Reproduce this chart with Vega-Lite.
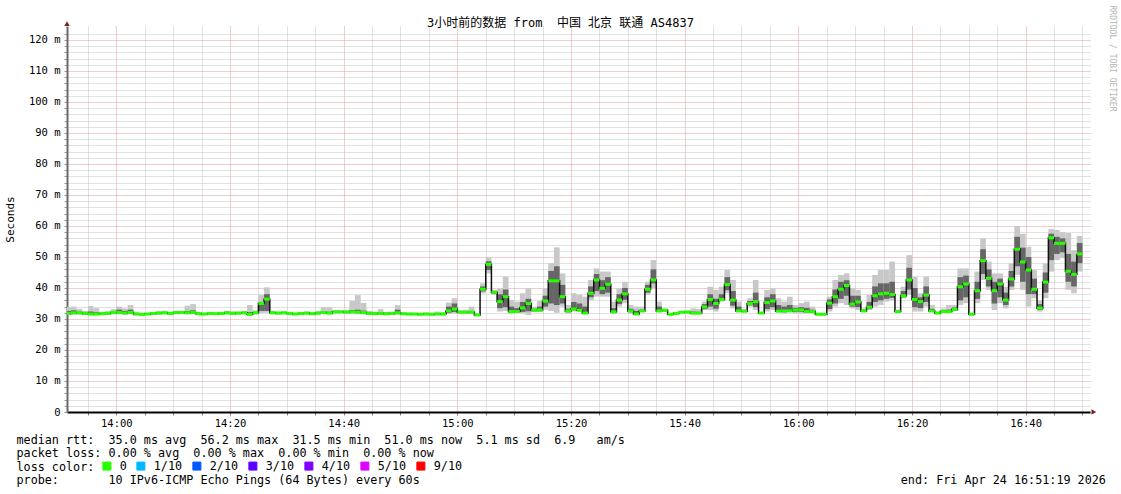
{
  "$schema": "https://vega.github.io/schema/vega-lite/v6.json",
  "width": 1023,
  "height": 386,
  "autosize": "none",
  "padding": {"left": 67, "top": 26, "right": 31, "bottom": 82},
  "background": "#ffffff",
  "config": {"view": {"stroke": null}, "font": "DejaVu Sans Mono"},
  "title": {
    "text": "3小时前的数据 from\u00a0\u00a0中国 北京 联通 AS4837",
    "font": "DejaVu Sans Mono, Noto Sans CJK SC",
    "fontSize": 12,
    "fontWeight": "normal",
    "color": "#000000",
    "anchor": "middle",
    "frame": "group",
    "dx": -18,
    "dy": 36.5,
    "offset": 0,
    "baseline": "bottom"
  },
  "data": {
    "values": [
      {"t":-9,"e":-8,"m":31.8,"lo":31.3,"hi":33.9,"a":31.5,"b":32.6},
      {"t":-8,"e":-7,"m":32.0,"lo":31.4,"hi":34.0,"a":31.6,"b":32.8},
      {"t":-7,"e":-6,"m":32.0,"lo":31.4,"hi":33.3,"a":31.6,"b":32.4},
      {"t":-6,"e":-5,"m":31.8,"lo":31.3,"hi":32.6,"a":31.5,"b":32.1},
      {"t":-5,"e":-4,"m":31.6,"lo":31.2,"hi":34.2,"a":31.4,"b":32.4},
      {"t":-4,"e":-3,"m":31.6,"lo":31.2,"hi":33.5,"a":31.4,"b":32.2},
      {"t":-3,"e":-2,"m":31.7,"lo":31.3,"hi":32.4,"a":31.5,"b":32.0},
      {"t":-2,"e":-1,"m":31.8,"lo":31.4,"hi":32.5,"a":31.6,"b":32.1},
      {"t":-1,"e":0,"m":32.1,"lo":31.5,"hi":33.2,"a":31.8,"b":32.5},
      {"t":0,"e":1,"m":32.1,"lo":31.5,"hi":34.0,"a":31.8,"b":33.0},
      {"t":1,"e":2,"m":31.9,"lo":31.4,"hi":33.4,"a":31.6,"b":32.6},
      {"t":2,"e":3,"m":32.1,"lo":31.5,"hi":34.5,"a":31.7,"b":33.0},
      {"t":3,"e":4,"m":31.6,"lo":31.2,"hi":32.3,"a":31.4,"b":31.9},
      {"t":4,"e":5,"m":31.5,"lo":31.1,"hi":32.0,"a":31.3,"b":31.8},
      {"t":5,"e":6,"m":31.6,"lo":31.2,"hi":32.0,"a":31.4,"b":31.9},
      {"t":6,"e":7,"m":31.8,"lo":31.3,"hi":32.2,"a":31.5,"b":32.0},
      {"t":7,"e":8,"m":31.9,"lo":31.4,"hi":32.6,"a":31.6,"b":32.2},
      {"t":8,"e":9,"m":32.0,"lo":31.5,"hi":32.6,"a":31.7,"b":32.3},
      {"t":9,"e":10,"m":31.8,"lo":31.4,"hi":32.3,"a":31.6,"b":32.0},
      {"t":10,"e":11,"m":32.1,"lo":31.6,"hi":32.6,"a":31.8,"b":32.3},
      {"t":11,"e":12,"m":32.1,"lo":31.6,"hi":32.4,"a":31.8,"b":32.3},
      {"t":12,"e":13,"m":32.0,"lo":31.5,"hi":34.3,"a":31.7,"b":32.6},
      {"t":13,"e":14,"m":32.1,"lo":31.5,"hi":34.8,"a":31.8,"b":32.8},
      {"t":14,"e":15,"m":31.7,"lo":31.3,"hi":32.3,"a":31.5,"b":32.0},
      {"t":15,"e":16,"m":31.6,"lo":31.2,"hi":32.1,"a":31.4,"b":31.9},
      {"t":16,"e":17,"m":31.8,"lo":31.4,"hi":32.2,"a":31.6,"b":32.0},
      {"t":17,"e":18,"m":31.7,"lo":31.3,"hi":32.1,"a":31.5,"b":31.9},
      {"t":18,"e":19,"m":31.8,"lo":31.4,"hi":32.3,"a":31.6,"b":32.1},
      {"t":19,"e":20,"m":32.0,"lo":31.5,"hi":32.6,"a":31.7,"b":32.3},
      {"t":20,"e":21,"m":31.8,"lo":31.4,"hi":32.5,"a":31.6,"b":32.1},
      {"t":21,"e":22,"m":31.9,"lo":31.4,"hi":32.4,"a":31.6,"b":32.1},
      {"t":22,"e":23,"m":32.0,"lo":31.5,"hi":32.6,"a":31.7,"b":32.3},
      {"t":23,"e":24,"m":31.5,"lo":31.1,"hi":34.5,"a":31.3,"b":32.2},
      {"t":24,"e":25,"m":32.0,"lo":31.5,"hi":32.8,"a":31.7,"b":32.3},
      {"t":25,"e":26,"m":35.0,"lo":32.0,"hi":37.7,"a":32.6,"b":35.5},
      {"t":26,"e":27,"m":36.4,"lo":32.0,"hi":40.2,"a":32.6,"b":38.0},
      {"t":27,"e":28,"m":32.0,"lo":31.5,"hi":32.6,"a":31.7,"b":32.3},
      {"t":28,"e":29,"m":31.9,"lo":31.4,"hi":32.4,"a":31.6,"b":32.1},
      {"t":29,"e":30,"m":32.0,"lo":31.5,"hi":32.5,"a":31.7,"b":32.2},
      {"t":30,"e":31,"m":31.8,"lo":31.4,"hi":32.3,"a":31.6,"b":32.0},
      {"t":31,"e":32,"m":31.6,"lo":31.2,"hi":32.0,"a":31.4,"b":31.8},
      {"t":32,"e":33,"m":31.8,"lo":31.4,"hi":32.2,"a":31.6,"b":32.0},
      {"t":33,"e":34,"m":31.9,"lo":31.5,"hi":32.4,"a":31.7,"b":32.1},
      {"t":34,"e":35,"m":31.7,"lo":31.3,"hi":32.2,"a":31.5,"b":31.9},
      {"t":35,"e":36,"m":31.9,"lo":31.4,"hi":32.6,"a":31.6,"b":32.2},
      {"t":36,"e":37,"m":32.1,"lo":31.6,"hi":33.9,"a":31.8,"b":32.5},
      {"t":37,"e":38,"m":31.9,"lo":31.5,"hi":33.8,"a":31.7,"b":32.3},
      {"t":38,"e":39,"m":32.3,"lo":31.8,"hi":32.9,"a":32.0,"b":32.6},
      {"t":39,"e":40,"m":32.3,"lo":31.8,"hi":32.8,"a":32.0,"b":32.6},
      {"t":40,"e":41,"m":32.2,"lo":31.7,"hi":33.0,"a":31.9,"b":32.6},
      {"t":41,"e":42,"m":32.3,"lo":31.7,"hi":35.8,"a":32.0,"b":32.9},
      {"t":42,"e":43,"m":32.2,"lo":31.6,"hi":37.7,"a":31.9,"b":33.0},
      {"t":43,"e":44,"m":32.1,"lo":31.6,"hi":35.2,"a":31.8,"b":32.7},
      {"t":44,"e":45,"m":31.8,"lo":31.4,"hi":32.6,"a":31.6,"b":32.1},
      {"t":45,"e":46,"m":31.7,"lo":31.3,"hi":32.4,"a":31.5,"b":32.0},
      {"t":46,"e":47,"m":31.8,"lo":31.4,"hi":33.2,"a":31.6,"b":32.2},
      {"t":47,"e":48,"m":31.7,"lo":31.3,"hi":32.3,"a":31.5,"b":32.0},
      {"t":48,"e":49,"m":31.8,"lo":31.4,"hi":32.3,"a":31.6,"b":32.0},
      {"t":49,"e":50,"m":32.0,"lo":31.4,"hi":34.5,"a":31.7,"b":33.0},
      {"t":50,"e":51,"m":31.7,"lo":31.3,"hi":32.2,"a":31.5,"b":31.9},
      {"t":51,"e":52,"m":31.6,"lo":31.2,"hi":32.1,"a":31.4,"b":31.8},
      {"t":52,"e":53,"m":31.6,"lo":31.2,"hi":32.0,"a":31.4,"b":31.8},
      {"t":53,"e":54,"m":31.5,"lo":31.1,"hi":32.0,"a":31.3,"b":31.7},
      {"t":54,"e":55,"m":31.6,"lo":31.2,"hi":32.1,"a":31.4,"b":31.8},
      {"t":55,"e":56,"m":31.5,"lo":31.1,"hi":32.0,"a":31.3,"b":31.7},
      {"t":56,"e":57,"m":31.6,"lo":31.2,"hi":32.4,"a":31.4,"b":31.9},
      {"t":57,"e":58,"m":31.6,"lo":31.2,"hi":32.2,"a":31.4,"b":31.9},
      {"t":58,"e":59,"m":32.6,"lo":31.6,"hi":35.3,"a":32.0,"b":34.0},
      {"t":59,"e":60,"m":33.2,"lo":31.8,"hi":36.7,"a":32.3,"b":35.0},
      {"t":60,"e":61,"m":32.2,"lo":31.6,"hi":32.8,"a":31.9,"b":32.5},
      {"t":61,"e":62,"m":32.2,"lo":31.6,"hi":33.0,"a":31.9,"b":32.5},
      {"t":62,"e":63,"m":32.2,"lo":31.6,"hi":34.0,"a":31.9,"b":32.6},
      {"t":63,"e":64,"m":31.3,"lo":31.0,"hi":31.8,"a":31.1,"b":31.6},
      {"t":64,"e":65,"m":39.6,"lo":38.3,"hi":41.5,"a":38.9,"b":40.5},
      {"t":65,"e":66,"m":47.6,"lo":44.7,"hi":49.8,"a":45.8,"b":48.6},
      {"t":66,"e":67,"m":38.6,"lo":37.8,"hi":39.4,"a":38.1,"b":39.0},
      {"t":67,"e":68,"m":35.6,"lo":32.4,"hi":39.9,"a":33.5,"b":38.0},
      {"t":68,"e":69,"m":37.2,"lo":32.6,"hi":43.6,"a":33.8,"b":39.5},
      {"t":69,"e":70,"m":32.4,"lo":31.8,"hi":36.1,"a":32.0,"b":34.0},
      {"t":70,"e":71,"m":32.4,"lo":32.0,"hi":35.6,"a":32.2,"b":33.5},
      {"t":71,"e":72,"m":33.6,"lo":31.8,"hi":38.3,"a":32.3,"b":35.5},
      {"t":72,"e":73,"m":35.0,"lo":31.3,"hi":39.9,"a":32.5,"b":36.5},
      {"t":73,"e":74,"m":32.9,"lo":32.2,"hi":34.0,"a":32.5,"b":33.3},
      {"t":74,"e":75,"m":32.9,"lo":32.2,"hi":35.8,"a":32.5,"b":34.0},
      {"t":75,"e":76,"m":35.8,"lo":33.0,"hi":39.9,"a":34.0,"b":37.5},
      {"t":76,"e":77,"m":42.3,"lo":32.6,"hi":48.0,"a":35.0,"b":45.5},
      {"t":77,"e":78,"m":42.3,"lo":32.0,"hi":53.1,"a":34.5,"b":47.0},
      {"t":78,"e":79,"m":37.2,"lo":34.0,"hi":44.7,"a":35.0,"b":41.0},
      {"t":79,"e":80,"m":32.6,"lo":31.8,"hi":34.5,"a":32.2,"b":33.3},
      {"t":80,"e":81,"m":33.2,"lo":32.4,"hi":38.3,"a":32.8,"b":35.5},
      {"t":81,"e":82,"m":32.8,"lo":32.4,"hi":37.8,"a":32.6,"b":35.0},
      {"t":82,"e":83,"m":31.9,"lo":31.7,"hi":37.2,"a":31.8,"b":34.0},
      {"t":83,"e":84,"m":38.3,"lo":36.1,"hi":42.6,"a":37.0,"b":40.5},
      {"t":84,"e":85,"m":42.6,"lo":37.2,"hi":46.3,"a":39.0,"b":44.5},
      {"t":85,"e":86,"m":39.9,"lo":37.2,"hi":45.3,"a":38.0,"b":42.5},
      {"t":86,"e":87,"m":41.2,"lo":37.2,"hi":45.3,"a":38.5,"b":43.5},
      {"t":87,"e":88,"m":32.3,"lo":31.8,"hi":35.6,"a":32.0,"b":33.5},
      {"t":88,"e":89,"m":36.1,"lo":34.0,"hi":39.9,"a":34.8,"b":38.0},
      {"t":89,"e":90,"m":38.1,"lo":35.1,"hi":42.0,"a":36.2,"b":40.0},
      {"t":90,"e":91,"m":32.6,"lo":31.8,"hi":34.5,"a":32.2,"b":33.3},
      {"t":91,"e":92,"m":31.6,"lo":31.4,"hi":34.0,"a":31.5,"b":32.6},
      {"t":92,"e":93,"m":32.6,"lo":32.2,"hi":34.0,"a":32.4,"b":33.0},
      {"t":93,"e":94,"m":39.6,"lo":37.8,"hi":42.0,"a":38.5,"b":41.0},
      {"t":94,"e":95,"m":42.6,"lo":40.0,"hi":49.0,"a":41.5,"b":46.0},
      {"t":95,"e":96,"m":32.6,"lo":32.2,"hi":35.6,"a":32.4,"b":34.0},
      {"t":96,"e":97,"m":32.8,"lo":32.2,"hi":33.4,"a":32.5,"b":33.0},
      {"t":97,"e":98,"m":31.5,"lo":31.2,"hi":31.9,"a":31.3,"b":31.7},
      {"t":98,"e":99,"m":31.8,"lo":31.4,"hi":32.3,"a":31.6,"b":32.0},
      {"t":99,"e":100,"m":32.2,"lo":31.8,"hi":32.6,"a":32.0,"b":32.4},
      {"t":100,"e":101,"m":32.2,"lo":31.8,"hi":32.8,"a":32.0,"b":32.4},
      {"t":101,"e":102,"m":31.9,"lo":31.5,"hi":33.4,"a":31.7,"b":32.4},
      {"t":102,"e":103,"m":31.9,"lo":31.5,"hi":33.2,"a":31.7,"b":32.3},
      {"t":103,"e":104,"m":33.9,"lo":32.9,"hi":35.6,"a":33.2,"b":34.8},
      {"t":104,"e":105,"m":36.3,"lo":32.9,"hi":40.4,"a":34.0,"b":38.0},
      {"t":105,"e":106,"m":35.0,"lo":32.4,"hi":39.4,"a":33.3,"b":36.5},
      {"t":106,"e":107,"m":36.3,"lo":35.6,"hi":40.4,"a":35.9,"b":38.0},
      {"t":107,"e":108,"m":41.1,"lo":38.3,"hi":45.8,"a":39.3,"b":43.5},
      {"t":108,"e":109,"m":36.1,"lo":33.4,"hi":42.6,"a":34.3,"b":39.0},
      {"t":109,"e":110,"m":32.6,"lo":32.2,"hi":35.6,"a":32.4,"b":34.0},
      {"t":110,"e":111,"m":32.5,"lo":32.2,"hi":33.2,"a":32.4,"b":32.8},
      {"t":111,"e":112,"m":35.0,"lo":34.0,"hi":36.7,"a":34.4,"b":35.8},
      {"t":112,"e":113,"m":35.6,"lo":32.9,"hi":42.6,"a":33.8,"b":38.5},
      {"t":113,"e":114,"m":31.9,"lo":31.6,"hi":32.3,"a":31.7,"b":32.1},
      {"t":114,"e":115,"m":35.3,"lo":32.4,"hi":39.4,"a":33.2,"b":37.0},
      {"t":115,"e":116,"m":35.8,"lo":32.9,"hi":39.9,"a":33.8,"b":38.0},
      {"t":116,"e":117,"m":32.5,"lo":32.3,"hi":36.7,"a":32.4,"b":34.5},
      {"t":117,"e":118,"m":32.6,"lo":31.8,"hi":35.6,"a":32.2,"b":34.0},
      {"t":118,"e":119,"m":32.6,"lo":32.4,"hi":37.2,"a":32.5,"b":34.5},
      {"t":119,"e":120,"m":32.9,"lo":31.8,"hi":34.5,"a":32.3,"b":33.6},
      {"t":120,"e":121,"m":32.9,"lo":31.8,"hi":35.1,"a":32.3,"b":33.8},
      {"t":121,"e":122,"m":32.4,"lo":31.8,"hi":35.6,"a":32.1,"b":33.6},
      {"t":122,"e":123,"m":32.4,"lo":31.8,"hi":34.0,"a":32.1,"b":33.0},
      {"t":123,"e":124,"m":31.5,"lo":31.3,"hi":32.0,"a":31.4,"b":31.8},
      {"t":124,"e":125,"m":31.5,"lo":31.3,"hi":32.0,"a":31.4,"b":31.7},
      {"t":125,"e":126,"m":35.1,"lo":32.4,"hi":37.2,"a":33.2,"b":36.3},
      {"t":126,"e":127,"m":37.2,"lo":34.0,"hi":42.6,"a":35.0,"b":39.5},
      {"t":127,"e":128,"m":39.6,"lo":35.1,"hi":44.2,"a":36.5,"b":42.0},
      {"t":128,"e":129,"m":40.8,"lo":34.5,"hi":44.7,"a":37.5,"b":42.5},
      {"t":129,"e":130,"m":34.8,"lo":33.4,"hi":39.9,"a":34.0,"b":37.5},
      {"t":130,"e":131,"m":35.5,"lo":32.9,"hi":39.4,"a":33.8,"b":37.5},
      {"t":131,"e":132,"m":32.6,"lo":32.2,"hi":33.4,"a":32.4,"b":33.0},
      {"t":132,"e":133,"m":33.8,"lo":32.9,"hi":37.8,"a":33.2,"b":35.5},
      {"t":133,"e":134,"m":37.5,"lo":34.0,"hi":44.2,"a":35.5,"b":40.5},
      {"t":134,"e":135,"m":38.1,"lo":34.5,"hi":45.8,"a":36.0,"b":41.5},
      {"t":135,"e":136,"m":38.3,"lo":35.6,"hi":45.8,"a":36.5,"b":41.5},
      {"t":136,"e":137,"m":37.9,"lo":36.1,"hi":48.5,"a":36.8,"b":42.0},
      {"t":137,"e":138,"m":32.4,"lo":32.0,"hi":33.0,"a":32.2,"b":32.7},
      {"t":138,"e":139,"m":37.5,"lo":36.7,"hi":40.4,"a":37.0,"b":39.0},
      {"t":139,"e":140,"m":42.6,"lo":37.8,"hi":50.6,"a":39.5,"b":46.5},
      {"t":140,"e":141,"m":36.3,"lo":32.4,"hi":43.6,"a":33.8,"b":40.0},
      {"t":141,"e":142,"m":35.6,"lo":32.4,"hi":38.3,"a":33.5,"b":37.0},
      {"t":142,"e":143,"m":37.7,"lo":34.0,"hi":43.6,"a":35.5,"b":40.5},
      {"t":143,"e":144,"m":32.6,"lo":32.4,"hi":34.5,"a":32.5,"b":33.3},
      {"t":144,"e":145,"m":31.9,"lo":31.6,"hi":32.4,"a":31.7,"b":32.1},
      {"t":145,"e":146,"m":32.4,"lo":32.0,"hi":33.4,"a":32.2,"b":32.8},
      {"t":146,"e":147,"m":32.4,"lo":32.0,"hi":34.5,"a":32.2,"b":33.0},
      {"t":147,"e":148,"m":33.1,"lo":32.6,"hi":34.5,"a":32.8,"b":33.7},
      {"t":148,"e":149,"m":40.4,"lo":34.5,"hi":46.3,"a":36.0,"b":43.5},
      {"t":149,"e":150,"m":41.3,"lo":35.1,"hi":46.3,"a":37.0,"b":44.0},
      {"t":150,"e":151,"m":31.5,"lo":31.2,"hi":32.0,"a":31.3,"b":31.7},
      {"t":151,"e":152,"m":39.1,"lo":35.1,"hi":45.3,"a":36.5,"b":42.0},
      {"t":152,"e":153,"m":48.8,"lo":42.6,"hi":56.0,"a":44.5,"b":52.5},
      {"t":153,"e":154,"m":43.1,"lo":39.4,"hi":48.5,"a":40.5,"b":46.0},
      {"t":154,"e":155,"m":39.1,"lo":32.9,"hi":44.7,"a":35.0,"b":42.0},
      {"t":155,"e":156,"m":41.3,"lo":35.1,"hi":44.7,"a":37.0,"b":43.0},
      {"t":156,"e":157,"m":36.1,"lo":33.4,"hi":40.4,"a":34.5,"b":38.5},
      {"t":157,"e":158,"m":42.9,"lo":39.4,"hi":47.9,"a":40.5,"b":45.5},
      {"t":158,"e":159,"m":52.5,"lo":44.2,"hi":60.0,"a":47.0,"b":56.5},
      {"t":159,"e":160,"m":48.4,"lo":39.4,"hi":57.5,"a":42.0,"b":53.0},
      {"t":160,"e":161,"m":45.8,"lo":34.0,"hi":53.3,"a":38.0,"b":50.0},
      {"t":161,"e":162,"m":39.6,"lo":36.7,"hi":45.8,"a":38.0,"b":43.0},
      {"t":162,"e":163,"m":33.5,"lo":32.4,"hi":36.1,"a":32.9,"b":34.8},
      {"t":163,"e":164,"m":41.9,"lo":36.7,"hi":47.9,"a":38.5,"b":45.0},
      {"t":164,"e":165,"m":56.2,"lo":45.3,"hi":59.0,"a":49.0,"b":57.5},
      {"t":165,"e":166,"m":54.4,"lo":49.0,"hi":58.7,"a":51.0,"b":56.5},
      {"t":166,"e":167,"m":54.4,"lo":49.6,"hi":58.0,"a":51.5,"b":56.0},
      {"t":167,"e":168,"m":45.4,"lo":39.4,"hi":57.7,"a":42.0,"b":51.0},
      {"t":168,"e":169,"m":44.4,"lo":38.3,"hi":52.2,"a":40.5,"b":48.5},
      {"t":169,"e":170,"m":51.0,"lo":45.3,"hi":56.8,"a":48.0,"b":54.5}
    ]
  },
  "resolve": {"axis": {"y": "independent"}},
  "encoding": {
    "x": {
      "field": "t", "type": "quantitative",
      "scale": {"domain": [-8.68, 171.32], "nice": false, "zero": false},
      "axis": {
        "values": [-5,0,5,10,15,20,25,30,35,40,45,50,55,60,65,70,75,80,85,90,95,100,105,110,115,120,125,130,135,140,145,150,155,160,165,170],
        "labelExpr": "datum.value % 20 == 0 ? (14 + floor(datum.value / 60)) + ':' + (datum.value % 60 == 0 ? '00' : (datum.value % 60)) : ''",
        "labelOverlap": false,
        "labelFlush": false,
        "labelFont": "DejaVu Sans Mono",
        "labelFontSize": 10.5,
        "labelColor": "#000000",
        "labelPadding": 3,
        "grid": true,
        "gridColor": {"condition": {"test": "datum.value % 20 == 0", "value": "#e79b9b"}, "value": "#c4c4c4"},
        "gridDash": [1, 1],
        "gridWidth": 1,
        "domainColor": "#000000",
        "domainWidth": 2,
        "tickSize": 3,
        "tickColor": "#888888",
        "title": [
          "median rtt:\u00a0\u00a035.0 ms avg\u00a0\u00a056.2 ms max\u00a0\u00a031.5 ms min\u00a0\u00a051.0 ms now\u00a0\u00a05.1 ms sd\u00a0\u00a06.9\u00a0\u00a0\u00a0am/s",
          "packet loss: 0.00 % avg\u00a0\u00a00.00 % max\u00a0\u00a00.00 % min\u00a0\u00a00.00 % now",
          "loss color:",
          "probe:\u00a0\u00a0\u00a0\u00a0\u00a0\u00a0\u00a010 IPv6-ICMP Echo Pings (64 Bytes) every 60s\u00a0\u00a0\u00a0\u00a0\u00a0\u00a0\u00a0\u00a0\u00a0\u00a0\u00a0\u00a0\u00a0\u00a0\u00a0\u00a0\u00a0\u00a0\u00a0\u00a0\u00a0\u00a0\u00a0\u00a0\u00a0\u00a0\u00a0\u00a0\u00a0\u00a0\u00a0\u00a0\u00a0\u00a0\u00a0\u00a0\u00a0\u00a0\u00a0\u00a0\u00a0\u00a0\u00a0\u00a0\u00a0\u00a0\u00a0\u00a0\u00a0\u00a0\u00a0\u00a0\u00a0\u00a0\u00a0\u00a0\u00a0\u00a0\u00a0\u00a0\u00a0\u00a0\u00a0\u00a0\u00a0\u00a0\u00a0\u00a0end: Fri Apr 24 16:51:19 2026"
        ],
        "titleFont": "DejaVu Sans Mono",
        "titleFontSize": 11.75,
        "titleFontWeight": "normal",
        "titleColor": "#000000",
        "titleAnchor": "start",
        "titleAlign": "left",
        "titleBaseline": "alphabetic",
        "titleLineHeight": 13.6,
        "titleX": -51,
        "titleY": 31
      }
    }
  },
  "layer": [
    {
      "mark": {"type": "rect", "color": "#c8c8c8", "clip": true},
      "encoding": {
        "x2": {"field": "e"},
        "y": {
          "field": "lo", "type": "quantitative",
          "scale": {"domain": [0, 124.5], "nice": false, "zero": true},
          "axis": {
            "values": [0,2,4,6,8,10,12,14,16,18,20,22,24,26,28,30,32,34,36,38,40,42,44,46,48,50,52,54,56,58,60,62,64,66,68,70,72,74,76,78,80,82,84,86,88,90,92,94,96,98,100,102,104,106,108,110,112,114,116,118,120,122],
            "labelExpr": "datum.value % 10 == 0 ? (datum.value == 0 ? '0' : datum.value + ' m') : ''",
            "labelOverlap": false,
            "labelFont": "DejaVu Sans Mono",
            "labelFontSize": 10.5,
            "labelColor": "#000000",
            "labelPadding": 4,
            "grid": true,
            "gridColor": {"condition": {"test": "datum.value % 10 == 0", "value": "#e79b9b"}, "value": "#c4c4c4"},
            "gridDash": [1, 1],
            "gridWidth": 1,
            "domainColor": "#6a6a6a",
            "domainWidth": 2,
            "tickSize": 3,
            "tickColor": "#999999",
            "title": "Seconds",
            "titleFont": "DejaVu Sans Mono",
            "titleFontSize": 11,
            "titleFontWeight": "normal",
            "titleColor": "#000000",
            "titleX": -57,
            "titleY": 193,
            "titleAngle": 270,
            "titleAlign": "center",
            "titleBaseline": "middle"
          }
        },
        "y2": {"field": "hi"}
      }
    },
    {
      "mark": {"type": "rect", "color": "#666666", "clip": true},
      "encoding": {
        "x2": {"field": "e"},
        "y": {"field": "a", "type": "quantitative", "axis": null},
        "y2": {"field": "b"}
      }
    },
    {
      "mark": {"type": "line", "interpolate": "step-after", "color": "#111111", "strokeWidth": 1.5, "clip": true},
      "encoding": {
        "y": {
          "field": "m", "type": "quantitative",
          "axis": {
            "orient": "right",
            "title": "RRDTOOL / TOBI OETIKER",
            "labels": false,
            "ticks": false,
            "domain": false,
            "grid": false,
            "titleFont": "DejaVu Sans Mono",
            "titleFontSize": 8,
            "titleFontWeight": "normal",
            "titleColor": "#b5b5b5",
            "titleAngle": 90,
            "titleX": 21,
            "titleY": -21,
            "titleAlign": "left",
            "titleBaseline": "middle"
          }
        }
      }
    },
    {
      "mark": {"type": "rule", "strokeWidth": 3, "clip": true},
      "encoding": {
        "x2": {"field": "e"},
        "y": {"field": "m", "type": "quantitative", "axis": null},
        "color": {
          "datum": "0",
          "type": "nominal",
          "scale": {
            "domain": ["0", "1/10", "2/10", "3/10", "4/10", "5/10", "9/10"],
            "range": ["#26ff00", "#00b8ff", "#0059ff", "#5e00ff", "#7e00ff", "#dd00ff", "#ff0000"]
          },
          "legend": {
            "orient": "none",
            "legendX": 34,
            "legendY": 434,
            "direction": "horizontal",
            "title": null,
            "padding": 0,
            "symbolType": "square",
            "symbolSize": 64,
            "symbolStrokeColor": "#000000",
            "symbolStrokeWidth": 1,
            "labelExpr": "datum.label == '0' ? '0\u00a0' : datum.label",
            "labelFont": "DejaVu Sans Mono",
            "labelFontSize": 11.75,
            "labelColor": "#000000",
            "labelOffset": 7,
            "columnPadding": 7,
            "encode": {
              "symbols": {
                "update": {
                  "fill": {"scale": "color", "field": "value"},
                  "stroke": {"value": "#000000"},
                  "strokeWidth": {"value": 1},
                  "opacity": {"value": 1},
                  "fillOpacity": {"value": 1}
                }
              }
            }
          }
        }
      }
    },
    {
      "data": {"values": [{"t": -8.68}]},
      "mark": {"type": "point", "shape": "triangle-up", "filled": true, "size": 30, "color": "#7f1f1f", "clip": false, "opacity": 1},
      "encoding": {
        "y": {"datum": 125.3, "type": "quantitative", "axis": null}
      }
    },
    {
      "data": {"values": [{"t": 172.0}]},
      "mark": {"type": "point", "shape": "triangle-right", "filled": true, "size": 30, "color": "#7f1f1f", "clip": false, "opacity": 1},
      "encoding": {
        "y": {"datum": 0, "type": "quantitative", "axis": null}
      }
    }
  ]
}
